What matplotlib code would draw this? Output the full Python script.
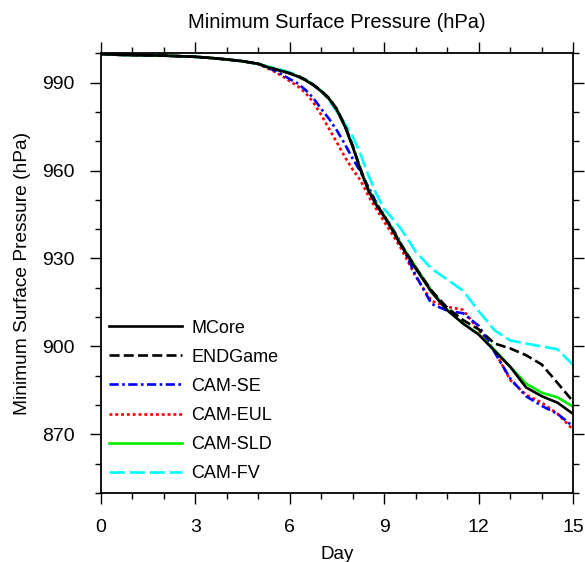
import matplotlib
matplotlib.use("Agg")
import matplotlib.pyplot as plt
from matplotlib.ticker import MultipleLocator

plt.rcParams['font.family'] = ['Liberation Sans', 'DejaVu Sans']

days = [0, 0.5, 1, 1.5, 2, 2.5, 3, 3.5, 4, 4.5, 5,
        5.25, 5.5, 5.75, 6, 6.25, 6.5, 6.75, 7, 7.25, 7.5, 7.75, 8, 8.25, 8.5,
        8.75, 9, 9.25, 9.5, 9.75, 10,
        10.5, 11, 11.5, 12, 12.5, 13, 13.5, 14, 14.5, 15]

early = [999.8, 999.5, 999.4, 999.3, 999.2, 999.0, 998.8, 998.4, 997.9, 997.3, 996.4]

mcore = early + [995.4, 994.6, 993.9, 993.1, 992.1, 990.8, 989.1, 987.0, 984.4, 980.6,
                 975.0, 968.0, 960.0, 953.0, 948.2, 944.2, 939.8, 935.0, 930.8, 926.5,
                 918.5, 912.3, 907.8, 904.0, 898.5, 893.0, 886.0, 883.0, 880.8, 876.9]
endgame = early + [995.5, 994.7, 994.0, 993.2, 992.3, 991.0, 989.3, 987.2, 984.7, 980.9,
                   975.4, 968.4, 960.4, 953.4, 948.5, 944.5, 940.1, 935.3, 931.1, 926.8,
                   919.0, 913.2, 909.0, 905.8, 901.0, 899.3, 897.0, 893.8, 887.5, 881.1]
cam_se = early + [995.3, 994.2, 992.8, 991.2, 989.7, 987.5, 984.7, 981.0, 977.6, 973.6,
                  969.0, 964.0, 959.5, 954.3, 949.0, 944.5, 940.5, 935.8, 930.0, 924.2,
                  914.5, 912.2, 911.3, 907.0, 898.0, 889.0, 883.0, 879.7, 877.0, 872.6]
cam_eul = early + [995.1, 993.8, 992.3, 990.5, 988.8, 986.5, 983.2, 979.0, 974.2, 969.5,
                   964.6, 960.3, 956.6, 951.2, 946.8, 942.5, 938.3, 934.0, 929.0, 923.8,
                   915.5, 913.5, 912.5, 905.5, 898.5, 888.5, 883.5, 880.8, 877.0, 871.5]
cam_sld = early + [995.5, 994.7, 994.0, 993.2, 992.2, 990.9, 989.2, 987.1, 984.6, 980.8,
                   975.2, 968.3, 960.3, 953.3, 948.5, 944.5, 940.2, 935.4, 931.2, 927.0,
                   919.0, 912.5, 907.8, 904.2, 898.8, 893.0, 887.3, 884.2, 882.6, 879.4]
cam_fv = early + [995.6, 995.0, 994.3, 993.5, 992.4, 991.0, 989.3, 987.2, 984.0, 980.0,
                  976.0, 971.5, 965.5, 958.3, 952.0, 946.8, 943.8, 940.5, 936.5, 932.3,
                  926.5, 922.8, 919.0, 912.0, 905.5, 902.0, 901.0, 900.0, 899.0, 893.6]

series = [
    ("MCore", mcore, "black", "-", 6),
    ("ENDGame", endgame, "black", (0, (3.8, 1.6)), 5),
    ("CAM-SE", cam_se, "blue", (0, (3.5, 1.3, 1.0, 1.3)), 3),
    ("CAM-EUL", cam_eul, "red", (0, (1.1, 1.1)), 2),
    ("CAM-SLD", cam_sld, "#00ee00", "-", 4),
    ("CAM-FV", cam_fv, "cyan", (0, (5.8, 1.8)), 1),
]

fig = plt.figure(figsize=(5.85, 5.62), dpi=100)
ax = fig.add_axes([0.1721, 0.1228, 0.808, 0.7824])

for name, vals, col, ls, z in series:
    ax.plot(days, vals, color=col, linestyle=ls, linewidth=1.9, label=name, zorder=z)

ax.set_xlim(0, 15)
ax.set_ylim(850, 1000)
ax.xaxis.set_major_locator(MultipleLocator(3))
ax.xaxis.set_minor_locator(MultipleLocator(1))
ax.yaxis.set_major_locator(MultipleLocator(30))
ax.yaxis.set_minor_locator(MultipleLocator(10))
ax.set_yticks([870, 900, 930, 960, 990])

ax.tick_params(which='both', direction='out', top=True, right=True,
               labelsize=14, width=1.0, pad=11)
ax.tick_params(which='major', length=8)
ax.tick_params(which='minor', length=4.5)
for sp in ax.spines.values():
    sp.set_linewidth(1.3)
    sp.set_zorder(10)

ax.set_title("Minimum Surface Pressure (hPa)", fontsize=14.5, pad=18)
ax.set_ylabel("Minimum Surface Pressure (hPa)", fontsize=13.8, labelpad=8)
ax.set_xlabel("Day", fontsize=13.5, labelpad=7)

leg = ax.legend(loc='lower left', bbox_to_anchor=(-0.0085, -0.004), frameon=False,
                fontsize=13, handlelength=4.0, handletextpad=0.55,
                labelspacing=0.67, borderaxespad=0.3)

fig.savefig("out.png", dpi=100)
